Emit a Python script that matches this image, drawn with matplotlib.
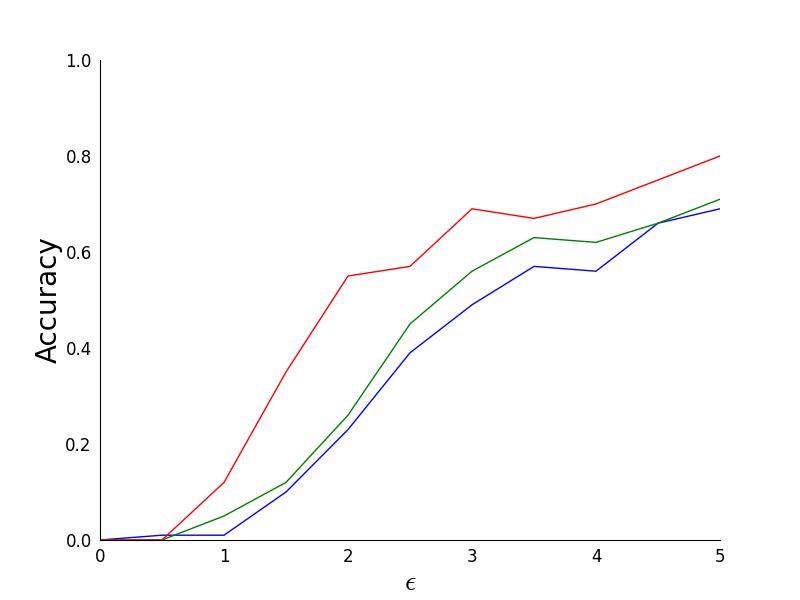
import numpy as np
import matplotlib.pyplot as plt

plt.rcParams["mathtext.fontset"] = "cm"

eps = [0, 0.5, 1, 1.5, 2, 2.5, 3, 3.5, 4, 4.5, 5]
acc_blue = [0.0, 0.01, 0.01, 0.10, 0.23, 0.39, 0.49, 0.57, 0.56, 0.66, 0.69]
acc_green = [0.0, 0.0, 0.05, 0.12, 0.26, 0.45, 0.56, 0.63, 0.62, 0.66, 0.71]
acc_red = [0.0, 0.0, 0.12, 0.35, 0.55, 0.57, 0.69, 0.67, 0.70, 0.75, 0.80]

fig = plt.figure(figsize=(8, 6), dpi=100)
ax = fig.add_axes([0.125, 0.1, 0.775, 0.8])
ax.plot(eps, acc_blue, color="blue", lw=1)
ax.plot(eps, acc_green, color="green", lw=1)
ax.plot(eps, acc_red, color="red", lw=1)

ax.set_xlim(0, 5)
ax.set_ylim(0, 1.0)
ax.set_yticks([0, 0.2, 0.4, 0.6, 0.8, 1.0])
ax.set_xticks([0, 1, 2, 3, 4, 5])
ax.spines["top"].set_visible(False)
ax.spines["right"].set_visible(False)
ax.tick_params(length=0, labelsize=12, pad=6)
ax.set_xlabel(r"$\epsilon$", fontsize=20, labelpad=1)
ax.set_ylabel("Accuracy", fontsize=20, labelpad=2)

plt.savefig("out.png")
plt.close()
